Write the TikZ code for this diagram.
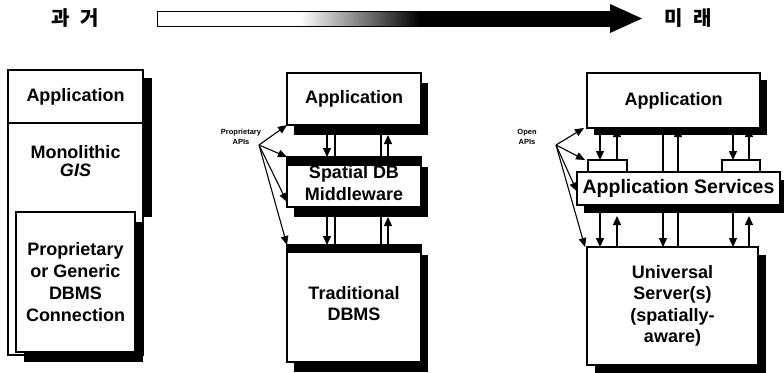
\documentclass[tikz,border=0pt]{standalone}
\usepackage{fontspec}
\setmainfont{Liberation Sans}
\newfontfamily\kor{Noto Sans CJK KR}
\usetikzlibrary{arrows.meta,shadows}

\tikzset{
  blk/.style={draw, fill=white, line width=1.3pt, inner sep=0pt, outer sep=0pt,
    anchor=north west, align=center, font=\bfseries\fontsize{18}{21.5}\selectfont},
  shd/.style={drop shadow={opacity=1, fill=black, shadow xshift=7pt, shadow yshift=-10pt}},
  txt/.style={align=center, inner sep=0pt, font=\bfseries\fontsize{18}{21.5}\selectfont},
  tiny/.style={align=center, inner sep=0pt, font=\bfseries\fontsize{7.5}{9.5}\selectfont},
  kr/.style={inner sep=0pt, font={\kor\bfseries\fontsize{20}{20}\selectfont}},
  dn/.style={line width=1.3pt, -{Triangle[length=9pt,width=8pt]}},
  ln/.style={line width=1.3pt},
  api/.style={line width=1.1pt, -{Triangle[length=9pt,width=7.5pt]}},
}

\begin{document}
\begin{tikzpicture}[x=1pt,y=-1pt]
  \useasboundingbox (0,0) rectangle (784,372);
  \def\ax{157};
  \def\ay{11};
  \def\ah{15};
  \def\tip{642};
  %time arrow
  \node[kr] (past) at (75,18) {과\hspace{6pt} 거};
  \node[kr] (fut) at (688,18) {미\hspace{6pt} 래};
  \fill[white] (\ax,\ay) rectangle (300,\ay+\ah);
  \shade[left color=white,right color=black] (300,\ay) rectangle (420,\ay+\ah);
  \fill (420,\ay) rectangle (610,\ay+\ah);
  \draw[line width=1pt] (\ax,\ay) rectangle (610,\ay+\ah);
  \fill (610,4)--(\tip,\ay+\ah/2)--(610,33)--cycle;

  %monolithic GIS
  \fill (143,78) rectangle (152,217);
  \draw[fill=white,line width=1.3pt] (8,70) rectangle (143,355);
  \draw[line width=1.3pt] (8,123)--(143,123);
  \node[txt] (lApp) at (75.5,97) {Application};
  \node[txt] (lGis) at (75.5,161) {Monolithic\\[-3.5pt]\textit{GIS}};
  \node[blk,minimum width=119,minimum height=140,
    drop shadow={opacity=1,fill=black,shadow xshift=8pt,shadow yshift=-10pt},
    font=\bfseries\fontsize{18}{22}\selectfont] (lCon) at (16,212)
    {Proprietary\\or Generic\\DBMS\\Connection};

  %middleware
  \node[blk,shd,minimum width=134,minimum height=52] (mApp) at (287,73) {Application};
  \node[blk,shd,minimum width=134,minimum height=50] (mMid) at (287,157) {\\[-6pt]Spatial DB\\Middleware};
  \node[blk,shd,minimum width=134,minimum height=117] (mDb) at (287,245) {Traditional\\DBMS};
  \fill (mMid.north west) rectangle ([yshift=-9pt]mMid.north east);
  \fill (mDb.north west) rectangle ([yshift=-8pt]mDb.north east);
  \coordinate (xa) at (327,0);
  \coordinate (xb) at (335,0);
  \coordinate (xc) at (381,0);
  \coordinate (xd) at (388,0);
  \draw[dn] (mApp.south -| xa)--(mMid.north -| xa);
  \draw[ln] (mApp.south -| xb)--(mMid.north -| xb);
  \draw[ln] (mApp.south -| xc)--(mMid.north -| xc);
  \draw[dn,shorten >=10pt] (mMid.north -| xd)--(mApp.south -| xd);
  \draw[dn] (mMid.south -| xa)--(mDb.north -| xa);
  \draw[ln] (mMid.south -| xb)--(mDb.north -| xb);
  \draw[ln] (mMid.south -| xc)--(mDb.north -| xc);
  \draw[dn,shorten >=10pt] (mDb.north -| xd)--(mMid.south -| xd);
  \node[tiny] (pLbl) at (241,137) {Proprietary\\APIs};
  \coordinate (pFan) at (259,145);
  \draw[api] (pFan)--(mApp.south west);
  \draw[api] (pFan)--(mMid.north west);
  \draw[api] (pFan)--([yshift=5pt]mMid.south west);
  \draw[api] (pFan)--(mDb.north west);

  %universal server
  \node[blk,drop shadow={opacity=1,fill=black,shadow xshift=7pt,shadow yshift=-7pt},
    minimum width=173,minimum height=55] (rApp) at (587,73) {Application};
  \node[blk,drop shadow={opacity=1,fill=black,shadow xshift=8pt,shadow yshift=-8pt},
    minimum width=171,minimum height=118] (rSrv) at (587,247)
    {Universal\\Server(s)\\(spatially-\\aware)};
  \coordinate (ra) at (600,0);
  \coordinate (rb) at (617,0);
  \coordinate (rc) at (663,0);
  \coordinate (rd) at (678,0);
  \coordinate (re) at (733,0);
  \coordinate (rf) at (749,0);
  \draw[dn] (rApp.south -| rc)--(rSrv.north -| rc);
  \draw[dn] (rSrv.north -| rd)--(rApp.south -| rd);
  \node[blk,minimum width=39,minimum height=12] (rTabL) at (588,160) {};
  \node[blk,minimum width=38,minimum height=12] (rTabR) at (722,160) {};
  \node[blk,drop shadow={opacity=1,fill=black,shadow xshift=7pt,shadow yshift=-8pt},
    minimum width=203,minimum height=33,font=\bfseries\fontsize{19.5}{21}\selectfont]
    (rSvc) at (577,172) {Application Services};
  \draw[dn] (rApp.south -| ra)--(rTabL.north -| ra);
  \draw[dn] (rTabL.north -| rb)--(rApp.south -| rb);
  \draw[dn] (rApp.south -| re)--(rTabR.north -| re);
  \draw[dn] (rTabR.north -| rf)--(rApp.south -| rf);
  \draw[dn] (rSvc.south -| ra)--(rSrv.north -| ra);
  \draw[dn,shorten >=11pt] (rSrv.north -| rb)--(rSvc.south -| rb);
  \draw[dn] (rSvc.south -| re)--(rSrv.north -| re);
  \draw[dn,shorten >=11pt] (rSrv.north -| rf)--(rSvc.south -| rf);
  \node[tiny] (oLbl) at (527,137) {Open\\APIs};
  \coordinate (oFan) at (556,145);
  \draw[api] (oFan)--([xshift=-3pt]rApp.south west);
  \draw[api] (oFan)--([xshift=-3pt]rTabL.north west);
  \draw[api] (oFan)--([yshift=-3pt]rSvc.west);
  \draw[api] (oFan)--([xshift=-2pt]rSrv.north west);
\end{tikzpicture}
\end{document}
